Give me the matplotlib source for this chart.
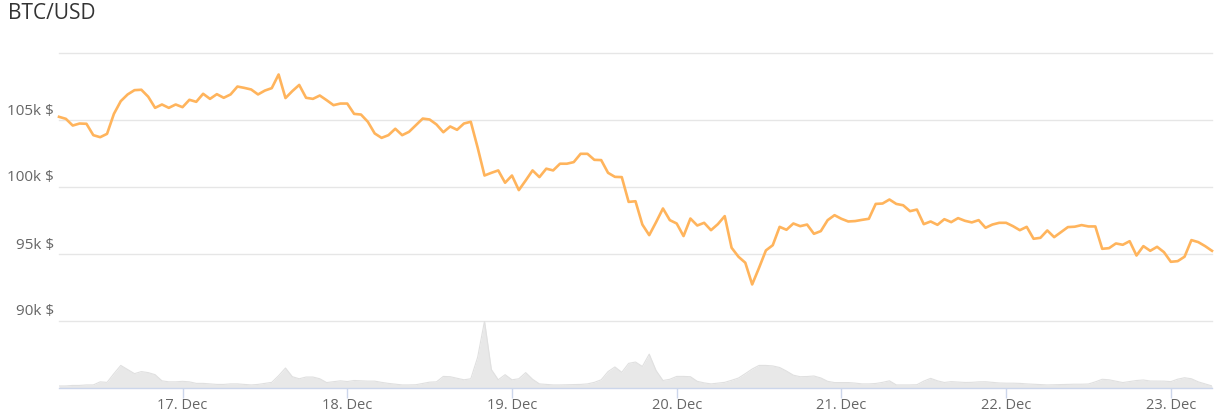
import numpy as np
import pandas as pd
import matplotlib
matplotlib.use("Agg")
import matplotlib.pyplot as plt
import matplotlib.dates as mdates

plt.rcParams['font.family'] = ['Open Sans', 'DejaVu Sans']

title = "BTC/USD"
start = "2024-12-16 06:00"

# hourly BTC price (USD)
price = [
    105200, 105050, 104550, 104700, 104680, 103830, 103680, 103930, 105420, 106370,
    106870, 107190, 107220, 106700, 105870, 106120, 105870, 106120, 105920, 106470,
    106320, 106920, 106540, 106890, 106620, 106870, 107460, 107360, 107240, 106870,
    107160, 107340, 108360, 106600, 107120, 107580, 106620, 106540, 106790, 106440,
    106070, 106190, 106190, 105420, 105370, 104830, 103960, 103630, 103830, 104310,
    103830, 104080, 104580, 105070, 105000, 104630, 104050, 104480, 104230, 104700,
    104830, 102900, 100820, 101020, 101200, 100280, 100820, 99730, 100450, 101200,
    100700, 101330, 101200, 101700, 101700, 101820, 102440, 102440, 101990, 101970,
    101020, 100720, 100700, 98850, 98900, 97160, 96370, 97340, 98360, 97490,
    97240, 96300, 97610, 97090, 97290, 96740, 97190, 97790, 95430, 94760,
    94310, 92690, 93930, 95230, 95620, 96990, 96770, 97240, 97040, 97160,
    96470, 96670, 97490, 97860, 97590, 97390, 97420, 97510, 97590, 98700,
    98730, 99030, 98700, 98600, 98160, 98280, 97190, 97390, 97140, 97560,
    97340, 97640, 97440, 97320, 97490, 96920, 97160, 97290, 97290, 97040,
    96740, 96990, 96100, 96170, 96720, 96220, 96600, 96970, 97000, 97120,
    97020, 97020, 95350, 95400, 95750, 95650, 95920, 94850, 95550, 95200,
    95500, 95100, 94380, 94430, 94760, 96000, 95850, 95550, 95200,
]

# hourly traded volume (relative units)
volume = [
    2.0, 2.0, 2.5, 2.5, 3.0, 3.0, 6.0, 5.5, 14.0, 22.0,
    18.0, 14.0, 16.0, 15.0, 13.0, 7.0, 6.0, 6.0, 6.5, 6.0,
    4.5, 4.5, 4.0, 3.5, 3.5, 4.0, 4.0, 3.5, 3.0, 3.5,
    4.5, 5.5, 12.0, 19.5, 11.0, 9.0, 10.7, 10.7, 9.0, 5.3,
    6.2, 7.0, 6.3, 7.3, 7.0, 6.7, 6.7, 5.5, 4.5, 3.8,
    3.0, 3.0, 3.2, 4.5, 5.7, 6.0, 11.3, 11.0, 9.5, 8.0,
    9.0, 30.0, 65.3, 18.0, 8.0, 13.0, 8.0, 9.0, 15.0, 8.5,
    4.0, 3.5, 3.0, 3.0, 3.2, 3.3, 3.5, 4.0, 5.5, 8.0,
    16.0, 20.5, 15.3, 24.0, 25.3, 21.0, 33.0, 17.0, 7.3, 8.5,
    11.3, 11.3, 11.0, 6.5, 5.0, 4.0, 4.7, 5.5, 7.5, 9.7,
    14.0, 18.5, 22.0, 22.0, 21.5, 20.0, 16.5, 12.5, 11.0, 11.2,
    11.7, 9.8, 6.5, 5.3, 5.3, 5.3, 4.8, 4.0, 4.0, 4.4,
    5.5, 7.0, 3.0, 3.0, 3.0, 3.2, 6.7, 9.4, 7.0, 5.4,
    6.2, 5.8, 5.4, 5.5, 6.0, 6.1, 5.5, 4.9, 4.7, 4.7,
    4.5, 4.0, 3.7, 3.4, 3.0, 3.2, 3.5, 3.7, 3.7, 3.7,
    3.9, 6.0, 8.5, 8.0, 6.7, 5.3, 6.3, 7.3, 7.8, 6.8,
    6.8, 6.7, 6.2, 8.6, 10.0, 9.0, 6.0, 4.0, 2.0,
]

price_ticks = [90000, 95000, 100000, 105000, 110000]
price_tick_labels = ["90k $", "95k $", "100k $", "105k $", ""]
date_ticks = ["2024-12-17", "2024-12-18", "2024-12-19", "2024-12-20",
              "2024-12-21", "2024-12-22", "2024-12-23"]
date_tick_labels = ["17. Dec", "18. Dec", "19. Dec", "20. Dec",
                    "21. Dec", "22. Dec", "23. Dec"]

times = pd.date_range(start=start, periods=len(price), freq="h")
xnum = mdates.date2num(times)

W, H = 1230, 413
fig = plt.figure(figsize=(W / 100, H / 100), dpi=100)
fig.patch.set_facecolor("white")

x0, x1 = 59, 1212
def fx(px):
    return px / W
def fy(py):
    return 1 - py / H

# price axes: 110k at y=52.5, 90k at y=320.5
ax = fig.add_axes([fx(x0), fy(320.5), fx(x1) - fx(x0), fy(52.5) - fy(320.5)])
ax.set_xlim(xnum[0], xnum[-1])
ax.set_ylim(90000, 110000)
for s in ax.spines.values():
    s.set_visible(False)
ax.set_xticks([])
ax.set_yticks([])
for v in price_ticks:
    ax.axhline(v, color="#e6e6e6", lw=1.0, zorder=1, clip_on=False)
for v, lab in zip(price_ticks, price_tick_labels):
    if lab:
        ax.annotate(lab, xy=(0, v), xycoords=("axes fraction", "data"),
                    xytext=(-5, 1), textcoords="offset pixels",
                    ha="right", va="bottom", fontsize=11, color="#666666")
ax.plot(xnum, price, color="#ffb45c", lw=1.9, zorder=3,
        solid_joinstyle="round", clip_on=False)

# volume axes: baseline at y=388, top at y=321
vax = fig.add_axes([fx(x0), fy(388), fx(x1) - fx(x0), fy(321) - fy(388)])
vax.set_xlim(xnum[0], xnum[-1])
vax.set_ylim(0, max(volume) * 1.0)
vax.fill_between(xnum, volume, 0, color="#e8e8e8", lw=0, zorder=1)
vax.plot(xnum, volume, color="#e0e0e0", lw=0.8, zorder=2)
vax.patch.set_alpha(0)
for k, s in vax.spines.items():
    s.set_visible(k == "bottom")
vax.spines["bottom"].set_color("#ccd6eb")
vax.spines["bottom"].set_linewidth(1.0)
vax.set_yticks([])
vax.set_xticks(mdates.date2num(pd.to_datetime(date_ticks)))
vax.set_xticklabels(date_tick_labels)
vax.tick_params(axis="x", length=7, width=1, color="#ccd6eb",
                labelsize=10.5, labelcolor="#666666", pad=0)

fig.text(fx(8), fy(3), title, ha="left", va="top", fontsize=15, color="#333333")

fig.savefig("out.png", dpi=100, facecolor="white")
